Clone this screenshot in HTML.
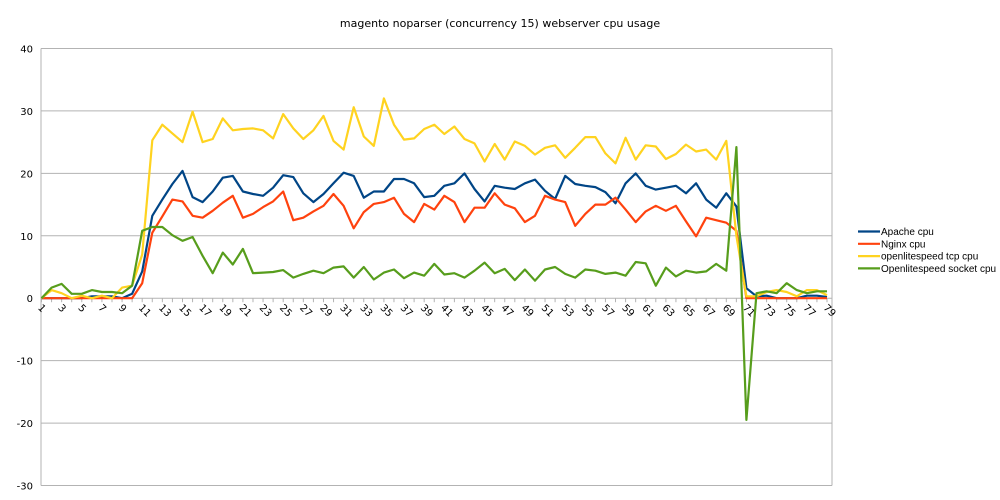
<!DOCTYPE html>
<html><head><meta charset="utf-8"><style>body{margin:0;background:#fff}svg{display:block}text{font-family:"DejaVu Sans","Liberation Sans",sans-serif}</style></head>
<body>
<svg id="chart" width="1000" height="500" xmlns="http://www.w3.org/2000/svg">
<rect width="1000" height="500" fill="#fff"/>
<text x="500" y="27" text-anchor="middle" font-size="11" fill="#000">magento noparser (concurrency 15) webserver cpu usage</text>
<g id="grid"></g><g id="axes"></g><g id="series"></g><g id="legend"></g>
</svg>
<script>
const yTicks = [40,30,20,10,0,-10,-20,-30];
const apache = [0,0,0,0,0,0.3,0.3,0.3,0,0.7,4.3,13.2,15.8,18.3,20.4,16.2,15.4,17.1,19.3,19.6,17.1,16.7,16.4,17.7,19.7,19.4,16.8,15.4,16.7,18.4,20.1,19.6,16.1,17.1,17.1,19.1,19.1,18.4,16.2,16.4,18,18.4,20,17.5,15.5,18,17.7,17.5,18.4,19,17.2,15.9,19.6,18.3,18,17.8,17,15.2,18.4,20,18,17.4,17.7,18,16.8,18.4,15.8,14.5,16.8,14.7,1.6,0.3,0.4,0,0,0,0.4,0.4,0.2];
const nginx = [0,0,0,0,0,0,0,0,0,0,2.4,10.5,13.1,15.8,15.5,13.2,12.9,14,15.3,16.4,12.9,13.5,14.6,15.5,17.1,12.5,12.9,13.9,14.8,16.7,14.8,11.2,13.8,15.1,15.4,16.1,13.5,12.2,15.1,14.2,16.4,15.4,12.2,14.5,14.5,16.8,15,14.4,12.2,13.2,16.4,15.8,15.4,11.6,13.5,15,15,16.1,14.2,12.2,13.9,14.8,14,14.8,12.3,9.9,12.9,12.5,12.1,10.8,0,0,0,0,0,0,0,0,0];
const olsTcp = [0,1.3,0.8,0,0.4,0,0.4,0,1.7,2,7,25.3,27.8,26.4,25,29.9,25,25.5,28.8,26.9,27.1,27.2,26.9,25.6,29.5,27.2,25.5,26.9,29.2,25.2,23.8,30.6,25.9,24.4,32,27.8,25.4,25.6,27.1,27.8,26.3,27.5,25.5,24.8,21.9,24.7,22.2,25.1,24.4,23,24.1,24.5,22.5,24.1,25.8,25.8,23.2,21.6,25.7,22.2,24.5,24.3,22.3,23.1,24.6,23.5,23.8,22.2,25.2,10,0.3,0.3,1,1.3,1,0.3,1.3,1.3,0.5];
const olsSocket = [0,1.7,2.3,0.7,0.7,1.3,1,1,0.8,2,10.8,11.4,11.4,10.1,9.2,9.8,6.8,4,7.3,5.4,7.9,4,4.1,4.2,4.5,3.3,3.9,4.4,4,4.9,5.1,3.3,5,3,4.1,4.6,3.2,4.1,3.6,5.5,3.8,4,3.3,4.4,5.7,4,4.7,2.9,4.6,2.8,4.6,5,3.9,3.3,4.6,4.4,3.9,4.1,3.6,5.8,5.6,2,4.9,3.5,4.4,4.1,4.3,5.5,4.4,24.2,-19.5,0.8,1.1,0.8,2.4,1.3,0.8,1.1,1.1];
const seriesNames = ["Apache cpu","Nginx cpu","openlitespeed tcp cpu","Openlitespeed socket cpu"];
const seriesColors = ["#004586","#ff420e","#ffd320","#579d1c"];
const allSeries = [apache, nginx, olsTcp, olsSocket];

const NS="http://www.w3.org/2000/svg";
const L=41, R=832, T=48.5, B=485.5, yMin=-30, yMax=40;
const n=apache.length;
const step=(R-L-5.5)/(n-1);
function xs(i){return L+0.5+i*step;}
function ys(v){return B-(v-yMin)/(yMax-yMin)*(B-T);}
function mk(tag,attrs,parent){const e=document.createElementNS(NS,tag);for(const k in attrs)e.setAttribute(k,attrs[k]);parent.appendChild(e);return e;}
const grid=document.getElementById('grid'),axes=document.getElementById('axes'),ser=document.getElementById('series'),leg=document.getElementById('legend');
yTicks.forEach(v=>{
  const g=mk('line',{x1:L,x2:R,y1:ys(v),y2:ys(v),stroke:'#b3b3b3','stroke-width':1},grid);
  
  
  const t=mk('text',{x:33,y:ys(v)+4,'text-anchor':'end','font-size':10,fill:'#000'},axes);
  
  
  t.textContent=v;
});
const ya=mk('line',{x1:L,x2:L,y1:T,y2:B,stroke:'#b3b3b3'},axes);


const rb=mk('line',{x1:R,x2:R,y1:T,y2:B,stroke:'#b3b3b3'},axes);


for(let i=0;i<n;i++){
  const tk=mk('line',{x1:xs(i),x2:xs(i),y1:ys(0),y2:ys(0)+4,stroke:'#b3b3b3'},axes);
  
  
  if(i%2===0){
    const x=xs(i),y=ys(0)+8;
    const t=mk('text',{x:x-2,y:y+3,'font-size':10,fill:'#000',transform:`rotate(45 ${x-2} ${y})`,'text-anchor':'start'},axes);
    
    
    t.textContent=i+1;
  }
}
allSeries.forEach((s,k)=>{
  const p=mk('polyline',{points:s.map((v,i)=>xs(i).toFixed(1)+','+ys(v).toFixed(1)).join(' '),fill:'none',stroke:seriesColors[k],'stroke-width':2.2,'stroke-linejoin':'round'},ser);
  
  
  const ly=231.5+k*12.3;
  const ll=mk('line',{x1:858,x2:880,y1:ly,y2:ly,stroke:seriesColors[k],'stroke-width':2.2},leg);
  
  
  const lt=mk('text',{x:881,y:ly+3.5,'font-size':10,fill:'#000',style:'font-family:"Liberation Sans",sans-serif'},leg);
  
  
  lt.textContent=seriesNames[k];
});
</script>
</body></html>
